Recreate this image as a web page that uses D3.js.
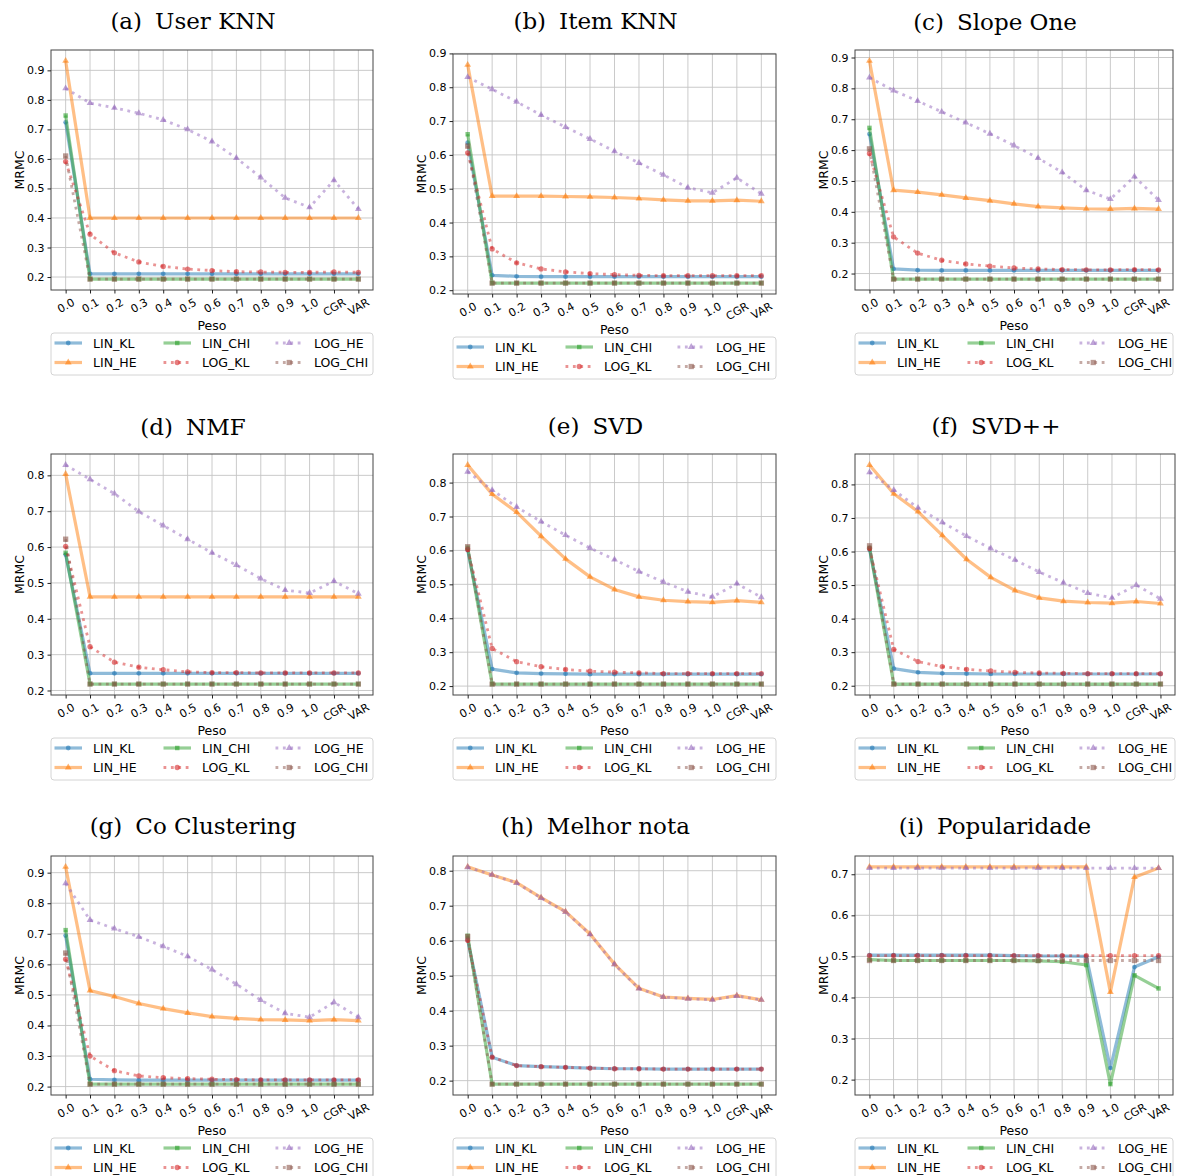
<!DOCTYPE html>
<html>
<head>
<meta charset="utf-8">
<script src="https://cdn.jsdelivr.net/npm/d3@7"></script>
<style>
  body { margin: 0; background: #fff; }
  svg text { font-family: "DejaVu Sans", sans-serif; }
</style>
</head>
<body>
<svg id="chart" width="1179" height="1176"></svg>
<script>
// x categories and series
const categories = ["0.0","0.1","0.2","0.3","0.4","0.5","0.6","0.7","0.8","0.9","1.0","CGR","VAR"];
const seriesNames = ["LIN_KL","LIN_HE","LIN_CHI","LOG_KL","LOG_HE","LOG_CHI"];
const panelLetters = ["(a)","(b)","(c)","(d)","(e)","(f)","(g)","(h)","(i)"];
const panelNames = ["User KNN","Item KNN","Slope One","NMF","SVD","SVD++","Co Clustering","Melhor nota","Popularidade"];
const yTickTops = [0.9, 0.9, 0.9, 0.8, 0.8, 0.8, 0.9, 0.8, 0.7];

// each panel: rows in seriesNames order
const userKnn = [
  [0.724, 0.211, 0.211, 0.211, 0.211, 0.211, 0.211, 0.211, 0.211, 0.211, 0.211, 0.211, 0.211],
  [0.932, 0.400, 0.400, 0.400, 0.400, 0.400, 0.400, 0.400, 0.400, 0.400, 0.400, 0.400, 0.400],
  [0.747, 0.193, 0.193, 0.193, 0.193, 0.193, 0.193, 0.193, 0.193, 0.193, 0.193, 0.193, 0.193],
  [0.591, 0.345, 0.282, 0.251, 0.236, 0.227, 0.222, 0.218, 0.217, 0.216, 0.216, 0.217, 0.216],
  [0.839, 0.789, 0.773, 0.755, 0.732, 0.700, 0.659, 0.603, 0.537, 0.468, 0.436, 0.528, 0.430],
  [0.610, 0.193, 0.193, 0.193, 0.193, 0.193, 0.193, 0.193, 0.193, 0.193, 0.193, 0.193, 0.193]
];
const itemKnn = [
  [0.636, 0.244, 0.241, 0.240, 0.240, 0.240, 0.240, 0.240, 0.240, 0.240, 0.240, 0.240, 0.240],
  [0.866, 0.478, 0.478, 0.478, 0.477, 0.476, 0.474, 0.471, 0.467, 0.464, 0.464, 0.466, 0.463],
  [0.661, 0.221, 0.221, 0.221, 0.221, 0.221, 0.221, 0.221, 0.221, 0.221, 0.221, 0.221, 0.221],
  [0.606, 0.322, 0.281, 0.263, 0.254, 0.249, 0.246, 0.244, 0.243, 0.243, 0.243, 0.243, 0.243],
  [0.830, 0.794, 0.757, 0.718, 0.682, 0.647, 0.611, 0.576, 0.541, 0.503, 0.488, 0.532, 0.485],
  [0.626, 0.221, 0.221, 0.221, 0.221, 0.221, 0.221, 0.221, 0.221, 0.221, 0.221, 0.221, 0.221]
];
const slopeOne = [
  [0.652, 0.215, 0.211, 0.210, 0.210, 0.210, 0.210, 0.210, 0.210, 0.210, 0.210, 0.210, 0.210],
  [0.889, 0.470, 0.464, 0.455, 0.445, 0.436, 0.426, 0.417, 0.413, 0.410, 0.409, 0.411, 0.409],
  [0.672, 0.182, 0.182, 0.182, 0.182, 0.182, 0.182, 0.182, 0.182, 0.182, 0.182, 0.182, 0.182],
  [0.589, 0.319, 0.266, 0.243, 0.231, 0.224, 0.218, 0.215, 0.213, 0.212, 0.212, 0.213, 0.212],
  [0.835, 0.793, 0.759, 0.724, 0.689, 0.653, 0.615, 0.574, 0.528, 0.470, 0.441, 0.514, 0.438],
  [0.604, 0.182, 0.182, 0.182, 0.182, 0.182, 0.182, 0.182, 0.182, 0.182, 0.182, 0.182, 0.182]
];
const nmf = [
  [0.579, 0.248, 0.248, 0.248, 0.248, 0.248, 0.248, 0.248, 0.248, 0.248, 0.248, 0.248, 0.248],
  [0.804, 0.461, 0.461, 0.461, 0.461, 0.461, 0.461, 0.461, 0.461, 0.461, 0.461, 0.461, 0.461],
  [0.584, 0.218, 0.218, 0.218, 0.218, 0.218, 0.218, 0.218, 0.218, 0.218, 0.218, 0.218, 0.218],
  [0.602, 0.322, 0.279, 0.265, 0.258, 0.252, 0.250, 0.250, 0.249, 0.249, 0.249, 0.249, 0.249],
  [0.829, 0.789, 0.749, 0.699, 0.660, 0.622, 0.584, 0.550, 0.512, 0.480, 0.472, 0.505, 0.470],
  [0.622, 0.218, 0.218, 0.218, 0.218, 0.218, 0.218, 0.218, 0.218, 0.218, 0.218, 0.218, 0.218]
];
const svd = [
  [0.601, 0.250, 0.239, 0.237, 0.236, 0.235, 0.235, 0.235, 0.235, 0.235, 0.235, 0.235, 0.235],
  [0.852, 0.766, 0.713, 0.642, 0.575, 0.522, 0.485, 0.463, 0.453, 0.449, 0.447, 0.452, 0.447],
  [0.608, 0.206, 0.206, 0.206, 0.206, 0.206, 0.206, 0.206, 0.206, 0.206, 0.206, 0.206, 0.206],
  [0.603, 0.311, 0.272, 0.257, 0.249, 0.244, 0.241, 0.239, 0.237, 0.237, 0.237, 0.237, 0.237],
  [0.832, 0.778, 0.728, 0.685, 0.645, 0.607, 0.573, 0.538, 0.507, 0.478, 0.463, 0.502, 0.462],
  [0.611, 0.206, 0.206, 0.206, 0.206, 0.206, 0.206, 0.206, 0.206, 0.206, 0.206, 0.206, 0.206]
];
const svdpp = [
  [0.606, 0.251, 0.240, 0.237, 0.236, 0.235, 0.235, 0.235, 0.235, 0.235, 0.235, 0.235, 0.235],
  [0.858, 0.772, 0.719, 0.648, 0.577, 0.523, 0.484, 0.462, 0.452, 0.448, 0.446, 0.451, 0.445],
  [0.611, 0.205, 0.205, 0.205, 0.205, 0.205, 0.205, 0.205, 0.205, 0.205, 0.205, 0.205, 0.205],
  [0.609, 0.308, 0.272, 0.257, 0.249, 0.244, 0.240, 0.238, 0.237, 0.236, 0.236, 0.236, 0.236],
  [0.836, 0.783, 0.730, 0.687, 0.646, 0.609, 0.575, 0.539, 0.507, 0.476, 0.462, 0.500, 0.459],
  [0.617, 0.205, 0.205, 0.205, 0.205, 0.205, 0.205, 0.205, 0.205, 0.205, 0.205, 0.205, 0.205]
];
const coClustering = [
  [0.694, 0.224, 0.222, 0.221, 0.221, 0.221, 0.221, 0.221, 0.221, 0.221, 0.221, 0.221, 0.221],
  [0.919, 0.514, 0.495, 0.472, 0.455, 0.441, 0.429, 0.423, 0.419, 0.418, 0.416, 0.419, 0.416],
  [0.712, 0.208, 0.208, 0.208, 0.208, 0.208, 0.208, 0.208, 0.208, 0.208, 0.208, 0.208, 0.208],
  [0.617, 0.300, 0.252, 0.235, 0.229, 0.226, 0.224, 0.223, 0.222, 0.222, 0.222, 0.222, 0.222],
  [0.865, 0.745, 0.717, 0.690, 0.659, 0.626, 0.583, 0.535, 0.483, 0.440, 0.427, 0.476, 0.427],
  [0.637, 0.208, 0.208, 0.208, 0.208, 0.208, 0.208, 0.208, 0.208, 0.208, 0.208, 0.208, 0.208]
];
const melhorNota = [
  [0.602, 0.267, 0.243, 0.240, 0.238, 0.236, 0.234, 0.234, 0.233, 0.233, 0.233, 0.233, 0.233],
  [0.811, 0.788, 0.766, 0.723, 0.683, 0.619, 0.533, 0.464, 0.439, 0.435, 0.432, 0.443, 0.431],
  [0.614, 0.190, 0.190, 0.190, 0.190, 0.190, 0.190, 0.190, 0.190, 0.190, 0.190, 0.190, 0.190],
  [0.601, 0.267, 0.243, 0.240, 0.238, 0.236, 0.234, 0.234, 0.233, 0.233, 0.233, 0.233, 0.233],
  [0.810, 0.788, 0.765, 0.722, 0.682, 0.618, 0.532, 0.463, 0.439, 0.434, 0.431, 0.442, 0.431],
  [0.612, 0.190, 0.190, 0.190, 0.190, 0.190, 0.190, 0.190, 0.190, 0.190, 0.190, 0.190, 0.190]
];
const popularidade = [
  [0.503, 0.503, 0.503, 0.503, 0.503, 0.503, 0.502, 0.501, 0.501, 0.500, 0.228, 0.474, 0.499],
  [0.718, 0.718, 0.718, 0.718, 0.718, 0.718, 0.718, 0.718, 0.718, 0.718, 0.413, 0.693, 0.715],
  [0.492, 0.490, 0.490, 0.490, 0.490, 0.490, 0.490, 0.489, 0.487, 0.479, 0.189, 0.454, 0.422],
  [0.502, 0.502, 0.502, 0.502, 0.502, 0.502, 0.502, 0.502, 0.502, 0.502, 0.502, 0.502, 0.502],
  [0.715, 0.715, 0.715, 0.715, 0.715, 0.715, 0.715, 0.715, 0.715, 0.715, 0.715, 0.715, 0.715],
  [0.490, 0.490, 0.490, 0.490, 0.490, 0.490, 0.490, 0.490, 0.490, 0.490, 0.490, 0.490, 0.490]
];
const panelData = [userKnn, itemKnn, slopeOne, nmf, svd, svdpp, coClustering, melhorNota, popularidade];

// styles
const colors = ["#1f77b4", "#ff7f0e", "#2ca02c", "#d62728", "#9467bd", "#8c564b"];
const symbols = [d3.symbolCircle, d3.symbolTriangle, d3.symbolSquare, d3.symbolCircle, d3.symbolTriangle, d3.symbolSquare];
const symbolSize = [18, 20, 20, 22, 20, 28];
const dotted = [false, false, false, true, true, true];

// axes frames (pixel boxes) for the 3x3 grid
const frames = [
  {l: 51, r: 373, t: 50, b: 290}, {l: 453, r: 776, t: 54, b: 294}, {l: 855, r: 1173, t: 50, b: 290},
  {l: 51, r: 373, t: 454, b: 695}, {l: 453, r: 776, t: 454, b: 695}, {l: 855, r: 1175, t: 454, b: 695},
  {l: 51, r: 373, t: 856, b: 1095}, {l: 453, r: 776, t: 856, b: 1095}, {l: 855, r: 1173, t: 856, b: 1095}
];
const titleY = [29, 29, 30, 435, 434, 434, 834, 834, 834];

const svg = d3.select("#chart");

function styleLine(sel, k) {
  sel.attr("fill", "none")
    .attr("stroke", colors[k])
    .attr("stroke-opacity", 0.5)
    .attr("stroke-width", dotted[k] ? 2.8 : 3.2)
    .attr("stroke-dasharray", dotted[k] ? "2.8,4.6" : null)
    .attr("stroke-linejoin", "round");
}

function drawPanel(i) {
  const f = frames[i];
  const data = panelData[i];
  const g = svg.append("g");

  const x = d3.scaleLinear().domain([-0.6, categories.length - 0.4]).range([f.l, f.r]);
  const all = data.flat();
  const lo = d3.min(all), hi = d3.max(all), pad = (hi - lo) * 0.05;
  const y = d3.scaleLinear().domain([lo - pad, hi + pad]).range([f.b, f.t]);
  const yTicks = d3.range(0.2, yTickTops[i] + 0.001, 0.1);

  // grid
  g.append("g").selectAll("line").data(categories).join("line")
    .attr("x1", (d, j) => x(j)).attr("x2", (d, j) => x(j))
    .attr("y1", f.t).attr("y2", f.b)
    .attr("stroke", "#c4c4c4").attr("stroke-width", 0.9);
  g.append("g").selectAll("line").data(yTicks).join("line")
    .attr("x1", f.l).attr("x2", f.r)
    .attr("y1", d => y(d)).attr("y2", d => y(d))
    .attr("stroke", "#c4c4c4").attr("stroke-width", 0.9);

  // series
  const line = d3.line().x((d, j) => x(j)).y(d => y(d));
  data.forEach((vals, k) => {
    g.append("path").datum(vals).attr("d", line).call(styleLine, k);
    g.append("g").selectAll("path").data(vals).join("path")
      .attr("transform", (d, j) => `translate(${x(j)},${y(d)})`)
      .attr("d", d3.symbol().type(symbols[k]).size(symbolSize[k]))
      .attr("fill", colors[k]).attr("fill-opacity", 0.6);
  });

  // frame
  g.append("rect").attr("x", f.l).attr("y", f.t)
    .attr("width", f.r - f.l).attr("height", f.b - f.t)
    .attr("fill", "none").attr("stroke", "#444").attr("stroke-width", 1);

  // y axis
  const ya = g.append("g").attr("transform", `translate(${f.l},0)`)
    .call(d3.axisLeft(y).tickValues(yTicks).tickFormat(d3.format(".1f")).tickSize(3.5).tickPadding(3));
  ya.select(".domain").remove();
  ya.selectAll("text").attr("font-size", 11).attr("fill", "#000").style("font-family", "DejaVu Sans");
  ya.selectAll("line").attr("stroke", "#222");

  // x axis, labels rotated like matplotlib rotation=30
  const xa = g.append("g").attr("transform", `translate(0,${f.b})`)
    .call(d3.axisBottom(x).tickValues(d3.range(categories.length)).tickFormat(j => categories[j]).tickSize(3.5));
  xa.select(".domain").remove();
  xa.selectAll("line").attr("stroke", "#222");
  xa.selectAll("text")
    .attr("font-size", 11).attr("fill", "#000").style("font-family", "DejaVu Sans")
    .attr("y", null).attr("dy", null)
    .attr("text-anchor", "middle").attr("dominant-baseline", "central")
    .attr("transform", function() {
      const w = this.getComputedTextLength();
      const off = 6.5 + (w * 0.5 + 11.5 * 0.866) / 2;
      return `translate(0,${off}) rotate(-30)`;
    });

  // labels
  g.append("text").attr("x", (f.l + f.r) / 2).attr("y", f.b + 40)
    .attr("text-anchor", "middle").attr("font-size", 12.5).text("Peso");
  g.append("text")
    .attr("transform", `translate(${f.l - 32},${(f.t + f.b) / 2}) rotate(-90)`)
    .attr("text-anchor", "middle").attr("dominant-baseline", "central")
    .attr("font-size", 12.5).text("MRMC");

  // title
  const title = g.append("text").attr("x", (f.l + f.r) / 2 - 19).attr("y", titleY[i])
    .attr("text-anchor", "middle").attr("font-size", 23)
    .style("font-family", "'DejaVu Serif', serif");
  title.append("tspan").text(panelLetters[i]);
  title.append("tspan").attr("dx", 13).text(panelNames[i]);

  // legend
  const lt = f.b + 43;
  const leg = g.append("g").attr("transform", `translate(${f.l},${lt})`);
  leg.append("rect").attr("width", f.r - f.l).attr("height", 42).attr("rx", 3)
    .attr("fill", "#fff").attr("fill-opacity", 0.8)
    .attr("stroke", "#d4d4d4").attr("stroke-width", 1);
  const colX = [3.5, 112.5, 224.5];
  const rowY = [10, 29.5];
  seriesNames.forEach((name, k) => {
    const cx = colX[Math.floor(k / 2)], cy = rowY[k % 2];
    leg.append("line").attr("x1", cx).attr("x2", cx + 27.5).attr("y1", cy).attr("y2", cy).call(styleLine, k);
    leg.append("path").attr("transform", `translate(${cx + 13.75},${cy})`)
      .attr("d", d3.symbol().type(symbols[k]).size(symbolSize[k]))
      .attr("fill", colors[k]).attr("fill-opacity", 0.6);
    leg.append("text").attr("x", cx + 38.5).attr("y", cy)
      .attr("dominant-baseline", "central").attr("font-size", 12.5).text(name);
  });
}

panelData.forEach((d, i) => drawPanel(i));
</script>
</body>
</html>
